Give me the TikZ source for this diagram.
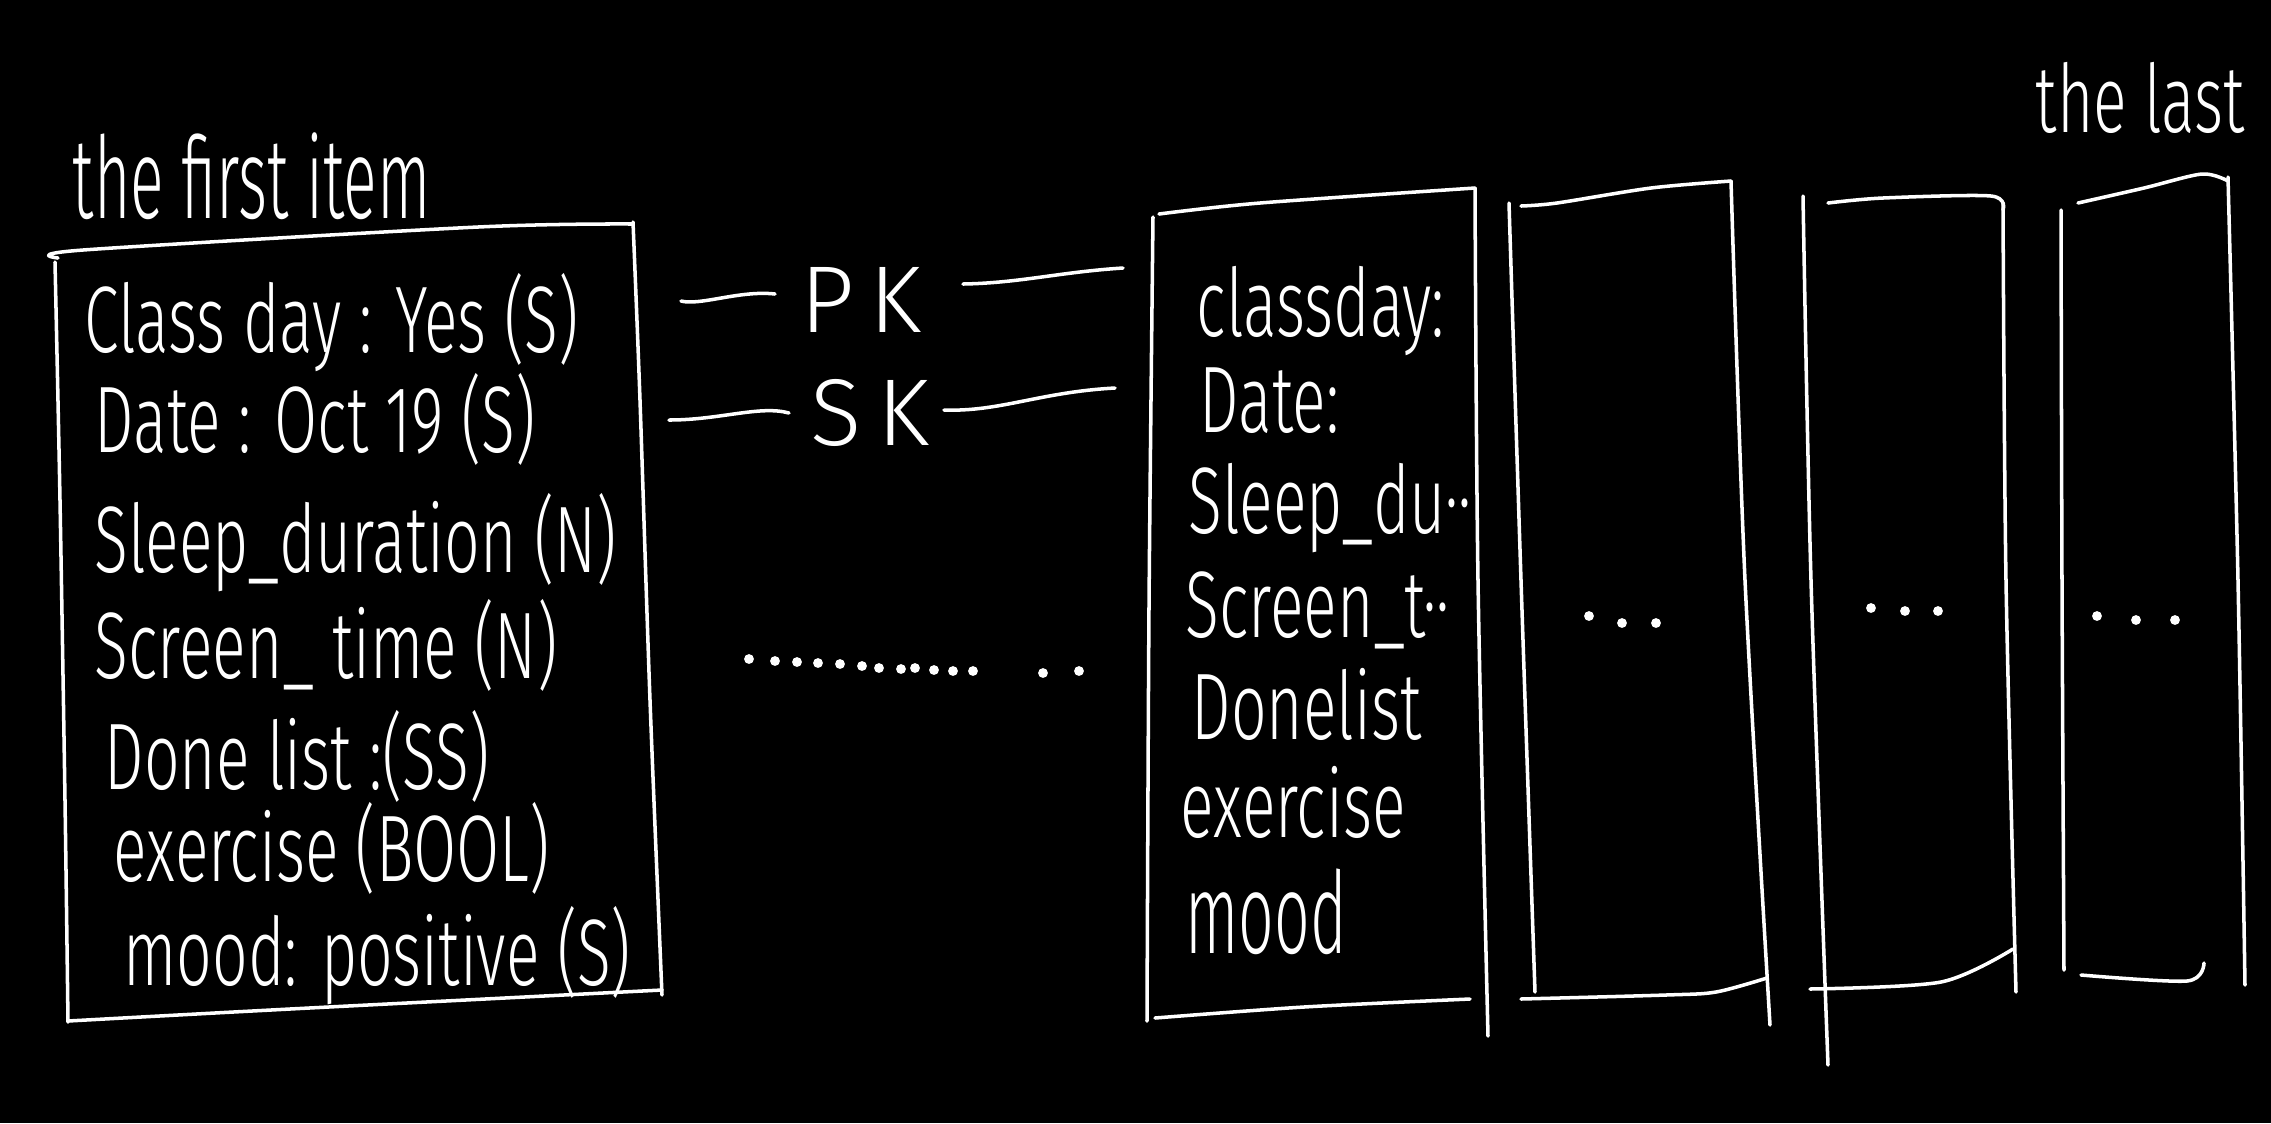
\documentclass[tikz,border=0pt]{standalone}
\usepackage{fontspec}
\newfontfamily\hwfont{Fira Sans Light}
\newcommand\hw[1]{\scalebox{0.74}[1.12]{#1}}
\newcommand\hwtall[1]{\scalebox{0.74}[1.35]{#1}}
\begin{document}
\begin{tikzpicture}[x=0.01cm,y=-0.01cm,
  ink/.style={draw=white,line width=1pt,line cap=round,line join=round},
  txt/.style={text=white,font=\hwfont\fontsize{24}{28}\selectfont,inner sep=0pt,anchor=base west},
  dotmark/.style={fill=white,draw=none}]
\fill[black] (0,0) rectangle (2271,1123);
\useasboundingbox (0,0) rectangle (2271,1123);

% labels
\node[txt] (first) at (72,218) {\hwtall{the first item}};
\node[txt] (last) at (2035,132) {\hw{the last}};

% left box
\draw[ink] plot[smooth] coordinates {(55,262) (60,500) (65,800) (68,1022)};
\draw[ink] plot[smooth] coordinates {(58,258) (83,250) (478,227) (633,224)};
\draw[ink] plot[smooth] coordinates {(633,222) (640,400) (650,700) (662,995)};
\draw[ink] plot[smooth] coordinates {(68,1021) (290,1009) (662,990)};

\node[txt] (l1) at (84,352) {\hw{Class day : Yes (S)}};
\node[txt] (l2) at (94,452) {\hw{Date : Oct 19 (S)}};
\node[txt] (l3) at (94,572) {\hw{Sleep\_duration (N)}};
\node[txt] (l4) at (94,678) {\hw{Screen\_ time (N)}};
\node[txt] (l5) at (104,789) {\hw{Done list :(SS)}};
\node[txt] (l6) at (113,881) {\hw{exercise (BOOL)}};
\node[txt] (l7) at (123,985) {\hw{mood: positive (S)}};

% PK / SK
\node[txt,anchor=center,font=\hwfont\fontsize{27}{30}\selectfont] (pk) at (861,300) {P\,K};
\node[txt,anchor=center,font=\hwfont\fontsize{27}{30}\selectfont] (sk) at (870,413) {S\,K};
\coordinate (pkA) at (681,301);
\coordinate (pkB) at (775,294);
\coordinate (pkC) at (963,284);
\coordinate (pkD) at (1123,268);
\coordinate (skA) at (669,420);
\coordinate (skB) at (789,413);
\coordinate (skC) at (944,410);
\coordinate (skD) at (1115,388);
\draw[ink] (pkA) .. controls (700,306) and (740,290) .. (pkB);
\draw[ink] (pkC) .. controls (1020,283) and (1060,272) .. (pkD);
\draw[ink] (skA) .. controls (720,420) and (760,405) .. (skB);
\draw[ink] (skC) .. controls (1000,412) and (1040,392) .. (skD);

% dotted row
\foreach \x/\y in {749/659,775/661,797/662,818/663,840/664,862/666,879/668,901/669,915/668,934/670,953/671,973/671,1043/673,1079/671}
  \fill[dotmark] (\x,\y) circle[radius=1.4pt];

% second box
\draw[ink] plot[smooth] coordinates {(1153,217) (1149,608) (1147,1021)};
\draw[ink] plot[smooth] coordinates {(1159,214) (1260,203) (1475,188)};
\draw[ink] plot[smooth] coordinates {(1475,188) (1478,580) (1488,1036)};
\draw[ink] plot[smooth] coordinates {(1155,1018) (1304,1007) (1470,999)};

\node[txt] (r1) at (1196,336) {\hw{classday:}};
\node[txt] (r2) at (1199,432) {\hw{Date:}};
\node[txt] (r3) at (1188,533) {\hw{Sleep\_du··}};
\node[txt] (r4) at (1185,637) {\hw{Screen\_t··}};
\node[txt] (r5) at (1191,739) {\hw{Donelist}};
\node[txt] (r6) at (1180,837) {\hw{exercise}};
\node[txt] (r7) at (1185,953) {\hwtall{mood}};

% third box
\draw[ink] plot[smooth] coordinates {(1509,203) (1521,580) (1535,992)};
\draw[ink] plot[smooth] coordinates {(1521,206) (1557,203) (1651,188) (1731,181)};
\draw[ink] plot[smooth] coordinates {(1731,181) (1745,580) (1770,1025)};
\draw[ink] plot[smooth] coordinates {(1521,999) (1666,995) (1716,992) (1767,978)};
\foreach \x/\y in {1589/616,1622/623,1656/623} \fill[dotmark] (\x,\y) circle[radius=1.4pt];

% fourth box
\draw[ink] plot[smooth] coordinates {(1803,196) (1811,580) (1828,1065)};
\draw[ink] plot[smooth] coordinates {(1828,203) (1883,198) (1991,196) (2003,210)};
\draw[ink] plot[smooth] coordinates {(2003,203) (2006,580) (2016,992)};
\draw[ink] plot[smooth] coordinates {(1810,989) (1941,982) (2013,949)};
\foreach \x/\y in {1871/608,1905/611,1938/611} \fill[dotmark] (\x,\y) circle[radius=1.4pt];

% fifth box
\draw[ink] plot[smooth] coordinates {(2061,210) (2062,580) (2064,970)};
\draw[ink] plot[smooth] coordinates {(2078,203) (2144,188) (2202,174) (2228,181)};
\draw[ink] plot[smooth] coordinates {(2228,177) (2238,580) (2245,985)};
\draw[ink] plot[smooth] coordinates {(2081,975) (2187,981) (2204,963)};
\foreach \x/\y in {2097/616,2136/620,2175/620} \fill[dotmark] (\x,\y) circle[radius=1.4pt];
\end{tikzpicture}
\end{document}
